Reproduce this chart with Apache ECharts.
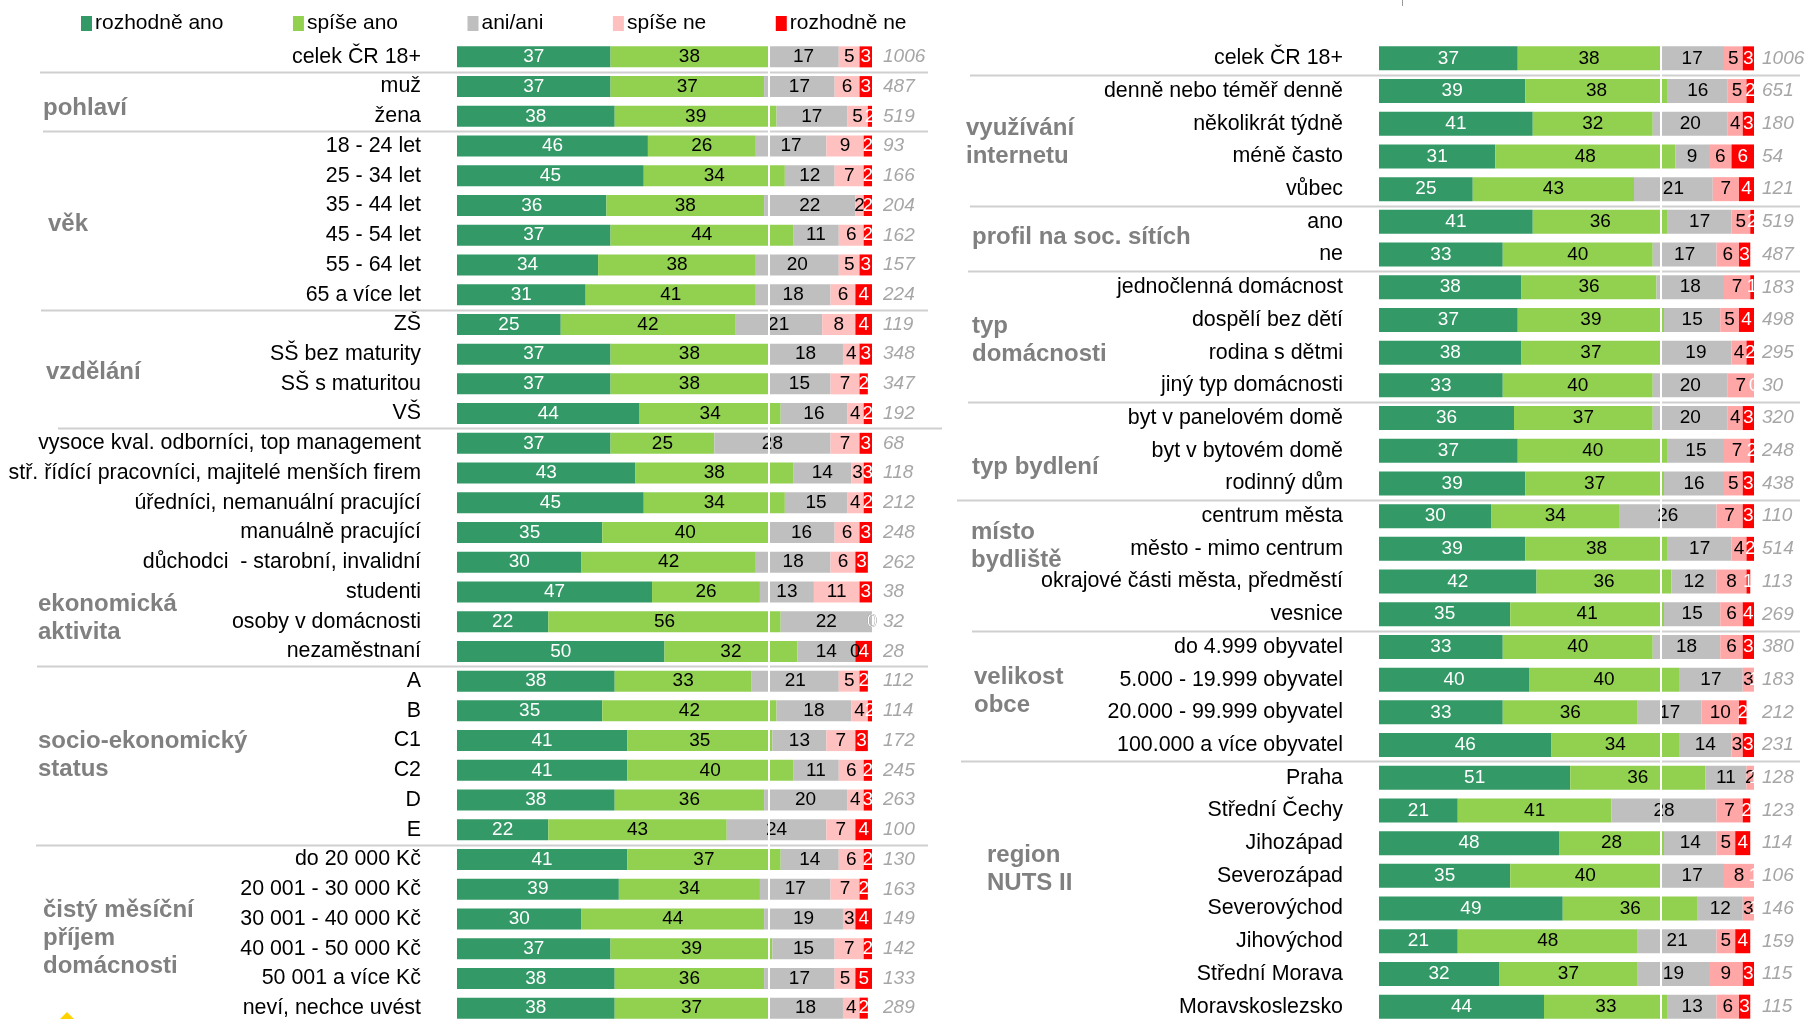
<!DOCTYPE html>
<html><head><meta charset="utf-8">
<script src="https://cdn.jsdelivr.net/npm/echarts@6/dist/echarts.min.js"></script>
<style>html,body{margin:0;padding:0;background:#fff;overflow:hidden}#c{width:1808px;height:1030px}</style>
</head><body><div id="c"></div>
<script>
const seriesNames = ['rozhodně ano','spíše ano','ani/ani','spíše ne','rozhodně ne'];

const leftCats = ['celek ČR 18+','muž','žena','18 - 24 let','25 - 34 let','35 - 44 let','45 - 54 let','55 - 64 let','65 a více let',
 'ZŠ','SŠ bez maturity','SŠ s maturitou','VŠ',
 'vysoce kval. odborníci, top management','stř. řídící pracovníci, majitelé menších firem','úředníci, nemanuální pracující','manuálně pracující','důchodci  - starobní, invalidní','studenti','osoby v domácnosti','nezaměstnaní',
 'A','B','C1','C2','D','E',
 'do 20 000 Kč','20 001 - 30 000 Kč','30 001 - 40 000 Kč','40 001 - 50 000 Kč','50 001 a více Kč','neví, nechce uvést'];
const leftN = ['1006','487','519','93','166','204','162','157','224','119','348','347','192','68','118','212','248','262','38','32','28','112','114','172','245','263','100','130','163','149','142','133','289'];
const leftRozhodneAno = [37,37,38,46,45,36,37,34,31,25,37,37,44,37,43,45,35,30,47,22,50,38,35,41,41,38,22,41,39,30,37,38,38];
const leftSpiseAno    = [38,37,39,26,34,38,44,38,41,42,38,38,34,25,38,34,40,42,26,56,32,33,42,35,40,36,43,37,34,44,39,36,37];
const leftAniAni      = [17,17,17,17,12,22,11,20,18,21,18,15,16,28,14,15,16,18,13,22,14,21,18,13,11,20,24,14,17,19,15,17,18];
const leftSpiseNe     = [5,6,5,9,7,2,6,5,6,8,4,7,4,7,3,4,6,6,11,0,0,5,4,7,6,4,7,6,7,3,7,5,4];
const leftRozhodneNe  = [3,3,2,2,2,2,2,3,4,4,3,2,2,3,3,2,3,3,3,0,4,2,2,3,2,3,4,2,2,4,2,5,2];

const rightCats = ['celek ČR 18+','denně nebo téměř denně','několikrát týdně','méně často','vůbec','ano','ne',
 'jednočlenná domácnost','dospělí bez dětí','rodina s dětmi','jiný typ domácnosti',
 'byt v panelovém domě','byt v bytovém domě','rodinný dům',
 'centrum města','město - mimo centrum','okrajové části města, předměstí','vesnice',
 'do 4.999 obyvatel','5.000 - 19.999 obyvatel','20.000 - 99.999 obyvatel','100.000 a více obyvatel',
 'Praha','Střední Čechy','Jihozápad','Severozápad','Severovýchod','Jihovýchod','Střední Morava','Moravskoslezsko'];
const rightN = ['1006','651','180','54','121','519','487','183','498','295','30','320','248','438','110','514','113','269','380','183','212','231','128','123','114','106','146','159','115','115'];
const rightRozhodneAno = [37,39,41,31,25,41,33,38,37,38,33,36,37,39,30,39,42,35,33,40,33,46,51,21,48,35,49,21,32,44];
const rightSpiseAno    = [38,38,32,48,43,36,40,36,39,37,40,37,40,37,34,38,36,41,40,40,36,34,36,41,28,40,36,48,37,33];
const rightAniAni      = [17,16,20,9,21,17,17,18,15,19,20,20,15,16,26,17,12,15,18,17,17,14,11,28,14,17,12,21,19,13];
const rightSpiseNe     = [5,5,4,6,7,5,6,7,5,4,7,4,7,5,7,4,8,6,6,3,10,3,2,7,5,8,3,5,9,6];
const rightRozhodneNe  = [3,2,3,6,4,2,3,1,4,2,0,3,2,3,3,2,1,4,3,1,2,3,1,2,4,1,1,4,3,3];

const FONT = '"Liberation Sans", Arial, sans-serif';
const colorsL = ['#339966','#92D050','#BFBFBF','#FFC0C0','#FF0000'];
const colorsR = ['#339966','#92D050','#BFBFBF','#FFA6A6','#FF0000'];
const labelColors = ['#ffffff','#000000','#000000','#000000','#ffffff'];

const chart = echarts.init(document.getElementById('c'), null, {renderer:'canvas'});

function mkSeries(dataArrs, colors, gi, barWidth){
  return dataArrs.map((d, k) => {
    const s = {
      name: seriesNames[k], type: 'bar', stack: 'g' + gi,
      xAxisIndex: gi, yAxisIndex: gi * 2,
      data: d, barWidth: barWidth,
      itemStyle: {color: colors[k]},
      label: {show: true, position: 'inside', color: labelColors[k], fontSize: 19, fontFamily: FONT},
      emphasis: {disabled: true}
    };
    if (k === 4) {
      s.markLine = {silent: true, symbol: 'none', animation: false, z: 10,
        label: {show: false}, lineStyle: {color: '#ffffff', width: 2, type: 'solid'},
        data: [{xAxis: 75}]};
    }
    return s;
  });
}

const catAxis = (gi, data) => ({
  type: 'category', gridIndex: gi, data: data, inverse: true,
  axisLine: {show: false}, axisTick: {show: false}, splitLine: {show: false},
  axisLabel: {fontSize: 21.4, color: '#000', fontFamily: FONT, margin: 36, interval: 0}
});
const nAxis = (gi, data, margin) => ({
  type: 'category', gridIndex: gi, data: data, inverse: true, position: 'right',
  axisLine: {show: false}, axisTick: {show: false}, splitLine: {show: false},
  axisLabel: {fontSize: 19, color: '#A6A6A6', fontStyle: 'italic', fontFamily: FONT, margin: margin, interval: 0}
});

chart.setOption({
  animation: false,
  backgroundColor: '#fff',
  legend: {
    data: seriesNames, left: 76, top: 8, icon: 'rect', itemWidth: 11, itemHeight: 15, itemGap: 69.5,
    textStyle: {fontSize: 21, fontFamily: FONT, color: '#000', padding: [0,0,0,-2]}, selectedMode: false
  },
  grid: [
    {left: 457, width: 415, top: 42, height: 981},
    {left: 1379, width: 375, top: 42, height: 981}
  ],
  xAxis: [
    {type: 'value', gridIndex: 0, min: 0, max: 100, show: false},
    {type: 'value', gridIndex: 1, min: 0, max: 100, show: false}
  ],
  yAxis: [catAxis(0, leftCats), nAxis(0, leftN, 11), catAxis(1, rightCats), nAxis(1, rightN, 8)],
  series: [
    ...mkSeries([leftRozhodneAno, leftSpiseAno, leftAniAni, leftSpiseNe, leftRozhodneNe], colorsL, 0, 21),
    ...mkSeries([rightRozhodneAno, rightSpiseAno, rightAniAni, rightSpiseNe, rightRozhodneNe], colorsR, 1, 24)
  ]
});

// separators between groups, placed via the axes' own scales
const leftBreaks = [[0,40,928],[2,43,928],[8,41,928],[12,58,942],[20,37,928],[26,36,928]];
const rightBreaks = [[0,970,1800],[4,970,1800],[6,968,1800],[10,968,1800],[13,957,1800],[17,972,1800],[21,961,1800]];
const graphics = [];
function addBreaks(breaks, cats, yAxisIndex){
  breaks.forEach(([i, x1, x2]) => {
    const y1 = chart.convertToPixel({yAxisIndex: yAxisIndex}, cats[i]);
    const y2 = chart.convertToPixel({yAxisIndex: yAxisIndex}, cats[i+1]);
    const y = Math.round((y1 + y2) / 2) + 0.5;
    graphics.push({type: 'line', silent: true, z: 1, shape: {x1: x1, y1: y, x2: x2, y2: y},
      style: {stroke: '#CFCFCF', lineWidth: 2}});
  });
}
addBreaks(leftBreaks, leftCats, 0);
addBreaks(rightBreaks, rightCats, 2);

const groupLabels = [
  ['pohlaví', 43, 108], ['věk', 48, 224], ['vzdělání', 46, 372],
  ['ekonomická\naktivita', 38, 618], ['socio-ekonomický\nstatus', 38, 755],
  ['čistý měsíční\npříjem\ndomácnosti', 43, 938],
  ['využívání\ninternetu', 966, 142], ['profil na soc. sítích', 972, 237],
  ['typ\ndomácnosti', 972, 340], ['typ bydlení', 972, 467], ['místo\nbydliště', 971, 546],
  ['velikost\nobce', 974, 691], ['region\nNUTS II', 987, 869]
];
groupLabels.forEach(([t, x, y]) => {
  graphics.push({type: 'text', silent: true, z: 5, x: x, y: y,
    style: {text: t, fill: '#808080', fontSize: 24, fontWeight: 'bold', fontFamily: FONT,
      verticalAlign: 'middle', align: 'left', lineHeight: 28}});
});
graphics.push({type: 'line', silent: true, shape: {x1: 1402.5, y1: 0, x2: 1402.5, y2: 6}, style: {stroke: '#9A9A9A', lineWidth: 1}});
graphics.push({type: 'polygon', silent: true, shape: {points: [[60,1019],[67,1012],[74,1019]]}, style: {fill: '#FFD200'}});

chart.setOption({graphic: graphics});
</script>
</body></html>
